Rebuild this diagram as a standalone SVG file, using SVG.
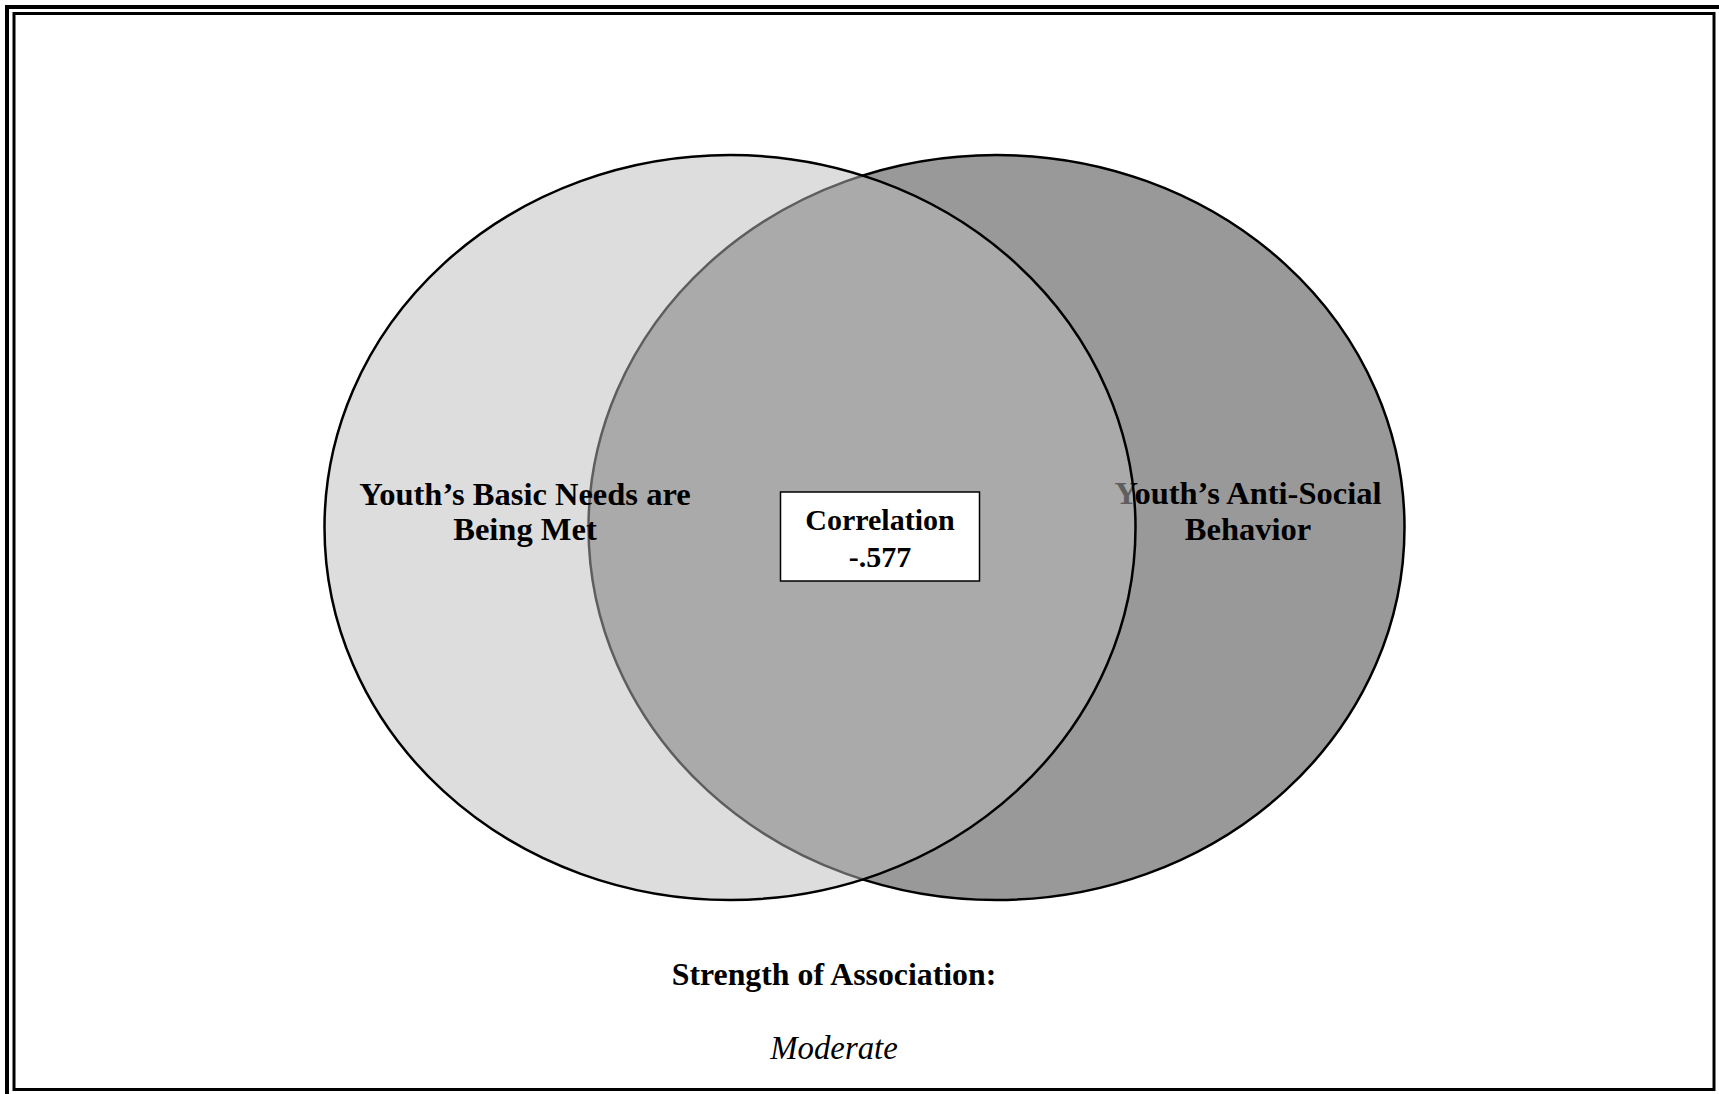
<svg xmlns="http://www.w3.org/2000/svg" width="1719" height="1094" viewBox="0 0 1719 1094">
  <style>
    .lbl { font-family: "Liberation Serif", "Times New Roman", serif; font-weight: bold; font-size: 32.5px; fill: #000; text-anchor: middle; }
    .box { font-family: "Liberation Serif", "Times New Roman", serif; font-weight: bold; font-size: 30px; fill: #000; text-anchor: middle; }
    .cap { font-family: "Liberation Serif", "Times New Roman", serif; font-weight: bold; font-size: 31.8px; fill: #000; text-anchor: middle; }
    .ital { font-family: "Liberation Serif", "Times New Roman", serif; font-style: italic; font-size: 32.8px; fill: #000; text-anchor: middle; }
    .ring { stroke: #000; stroke-width: 2.5; }
  </style>
  <rect x="0" y="0" width="1719" height="1094" fill="#fff"/>
  <g id="frame" fill="none" stroke="#000">
    <rect x="7" y="7" width="1720" height="1100" stroke-width="4"/>
    <rect x="14" y="13.5" width="1700" height="1076" stroke-width="3"/>
  </g>
  <g id="anti-social">
    <ellipse class="ring" cx="996.5" cy="527.5" rx="408" ry="372.5" fill="#999999"/>
    <text class="lbl" x="1248" y="504">Youth’s Anti-Social</text>
    <text class="lbl" x="1248" y="540">Behavior</text>
  </g>
  <g id="basic-needs">
    <ellipse cx="730" cy="527.5" rx="405.5" ry="372.5" fill="#bcbcbc" fill-opacity="0.5" stroke="#000" stroke-width="2.5"/>
    <text class="lbl" x="525" y="505">Youth’s Basic Needs are</text>
    <text class="lbl" x="525" y="540">Being Met</text>
  </g>
  <g id="correlation">
    <rect x="780.5" y="492" width="199" height="89" fill="#fff" stroke="#000" stroke-width="1.5"/>
    <text class="box" x="880" y="530">Correlation</text>
    <text class="box" x="880" y="567">-.577</text>
  </g>
  <g id="strength">
    <text class="cap" x="834" y="985">Strength of Association:</text>
    <text class="ital" x="834" y="1059">Moderate</text>
  </g>
</svg>
